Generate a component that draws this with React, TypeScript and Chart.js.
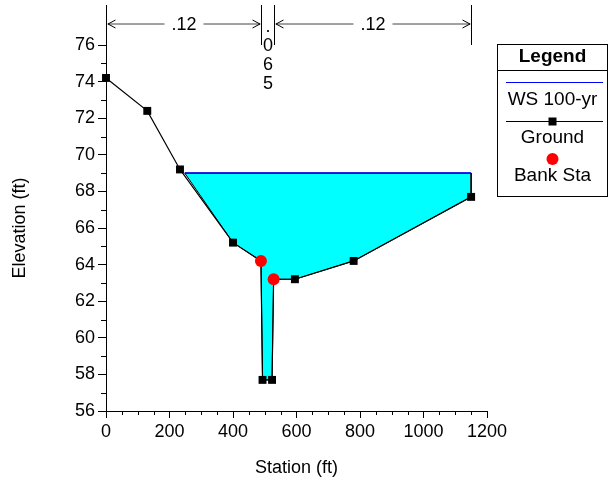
import React, { useEffect, useRef } from 'react';
import { Chart, registerables } from 'chart.js';

Chart.register(...registerables);

// ---- data ----
const groundStations = [0, 130, 233, 400, 488, 493, 523, 528, 595, 780, 1150];
const groundElevations = [74.2, 72.4, 69.2, 65.2, 64.2, 57.7, 57.7, 63.2, 63.2, 64.2, 67.7];
const bankStations = [488, 528];
const bankElevations = [64.2, 63.2];
const wsStations = [248, 1150];
const wsElevation = 69.0;
const nBreakStations = [0, 488, 528, 1150];
const nValues = ['.12', '.065', '.12'];
const xTickValues = [0, 200, 400, 600, 800, 1000, 1200];
const yTickValues = [56, 58, 60, 62, 64, 66, 68, 70, 72, 74, 76];
const xMinorStep = 50;
const yMinorStep = 1;

const FONT = '"Liberation Sans", Arial, sans-serif';
const FS = 18;
const LFS = 19;

// water polygon built from WS and ground below it
const groundPts = groundStations.map((s, i) => ({ x: s, y: groundElevations[i] }));
const wetGround = groundPts.filter((p) => p.y <= wsElevation && p.x >= wsStations[0] && p.x <= wsStations[1]);
const waterPolygon = [
  { x: wsStations[0], y: wsElevation },
  { x: wsStations[1], y: wsElevation },
  ...wetGround.slice().reverse(),
  { x: wsStations[0], y: wsElevation },
];

const overlayPlugin = {
  id: 'overlay',
  afterDraw(chart: any) {
    const { ctx, chartArea } = chart;
    const x = chart.scales.x;
    const y = chart.scales.y;
    ctx.save();
    ctx.strokeStyle = '#000';
    ctx.lineWidth = 1;

    // minor ticks
    ctx.beginPath();
    for (let v = y.min + yMinorStep; v < y.max; v += yMinorStep) {
      if (yTickValues.includes(v)) continue;
      const py = Math.round(y.getPixelForValue(v)) + 0.5;
      ctx.moveTo(chartArea.left - 5, py);
      ctx.lineTo(chartArea.left, py);
    }
    for (let v = x.min + xMinorStep; v < x.max; v += xMinorStep) {
      if (xTickValues.includes(v)) continue;
      const px = Math.round(x.getPixelForValue(v)) + 0.5;
      ctx.moveTo(px, chartArea.bottom);
      ctx.lineTo(px, chartArea.bottom + 4);
    }
    ctx.stroke();

    // Manning's n annotations
    const yTop = 5;
    const yBot = chartArea.top;
    const yArr = 24;
    const pxs = nBreakStations.map((s) => Math.round(x.getPixelForValue(s)) + 0.5);
    ctx.beginPath();
    pxs.forEach((px) => {
      ctx.moveTo(px, yTop);
      ctx.lineTo(px, yBot);
    });
    ctx.stroke();
    ctx.font = `${FS}px ${FONT}`;
    ctx.fillStyle = '#000';
    ctx.textAlign = 'center';
    for (let i = 0; i < nValues.length; i++) {
      const a = pxs[i];
      const b = pxs[i + 1];
      const mid = (a + b) / 2;
      if (b - a > 40) {
        const tw = ctx.measureText(nValues[i]).width;
        const gap = tw / 2 + 7;
        ctx.strokeStyle = '#444';
        ctx.beginPath();
        ctx.moveTo(a + 1, yArr);
        ctx.lineTo(mid - gap, yArr);
        ctx.moveTo(mid + gap, yArr);
        ctx.lineTo(b - 1, yArr);
        ctx.stroke();
        ctx.strokeStyle = '#000';
        ctx.beginPath();
        ctx.moveTo(a + 9, yArr - 4);
        ctx.lineTo(a + 1.5, yArr);
        ctx.lineTo(a + 9, yArr + 4);
        ctx.moveTo(b - 9, yArr - 4);
        ctx.lineTo(b - 1.5, yArr);
        ctx.lineTo(b - 9, yArr + 4);
        ctx.stroke();
        ctx.textBaseline = 'middle';
        ctx.fillText(nValues[i], mid, yArr + 1);
      } else {
        ctx.textBaseline = 'alphabetic';
        const chars = nValues[i].split('');
        chars.forEach((c, k) => {
          ctx.fillText(c, mid, 32 + 19 * k);
        });
      }
    }

    // legend box
    const ds = chart.data.datasets;
    const L = 497.5, T = 44.5, W = 110, H = 152;
    const cx = L + W / 2;
    ctx.fillStyle = '#fff';
    ctx.fillRect(L, T, W, H);
    ctx.strokeStyle = '#000';
    ctx.lineWidth = 1;
    ctx.strokeRect(L, T, W, H);
    ctx.beginPath();
    ctx.moveTo(L, 70.5);
    ctx.lineTo(L + W, 70.5);
    ctx.stroke();
    ctx.fillStyle = '#000';
    ctx.textAlign = 'center';
    ctx.textBaseline = 'middle';
    ctx.font = `bold ${LFS}px ${FONT}`;
    ctx.fillText('Legend', cx, 57);
    ctx.font = `${LFS}px ${FONT}`;
    // WS
    ctx.strokeStyle = '#0000ff';
    ctx.beginPath();
    ctx.moveTo(506, 82.5);
    ctx.lineTo(603, 82.5);
    ctx.stroke();
    ctx.fillText(ds[1].label, cx, 100);
    // Ground
    ctx.strokeStyle = '#000';
    ctx.beginPath();
    ctx.moveTo(506, 121.5);
    ctx.lineTo(603, 121.5);
    ctx.stroke();
    ctx.fillRect(cx - 4, 117.5, 8, 8);
    ctx.fillText(ds[2].label, cx, 138);
    // Bank
    ctx.fillStyle = '#ff0000';
    ctx.beginPath();
    ctx.arc(cx, 159, 6, 0, Math.PI * 2);
    ctx.fill();
    ctx.fillStyle = '#000';
    ctx.fillText(ds[3].label, cx, 176);

    ctx.restore();
  },
};

export default function App() {
  const ref = useRef<HTMLCanvasElement>(null);
  useEffect(() => {
    Chart.defaults.font.family = FONT;
    const chart = new Chart(ref.current as HTMLCanvasElement, {
      type: 'scatter',
      data: {
        datasets: [
          {
            label: 'water',
            data: waterPolygon,
            showLine: true,
            fill: 'shape',
            backgroundColor: '#00ffff',
            borderColor: '#000',
            borderWidth: 1,
            pointRadius: 0,
            order: 4,
          },
          {
            label: 'WS 100-yr',
            data: wsStations.map((s) => ({ x: s, y: wsElevation })),
            showLine: true,
            borderColor: '#0000ff',
            borderWidth: 1.5,
            pointRadius: 0,
            order: 3,
          },
          {
            label: 'Ground',
            data: groundPts,
            showLine: true,
            borderColor: '#000',
            borderWidth: 1.2,
            pointStyle: 'rect',
            pointRadius: groundStations.map((s) => (bankStations.includes(s) ? 0 : 5.6)),
            pointBackgroundColor: '#000',
            pointBorderColor: '#000',
            pointBorderWidth: 0,
            clip: false,
            order: 2,
          },
          {
            label: 'Bank Sta',
            data: bankStations.map((s, i) => ({ x: s, y: bankElevations[i] })),
            showLine: false,
            pointStyle: 'circle',
            pointRadius: 6,
            pointBackgroundColor: '#ff0000',
            pointBorderColor: '#ff0000',
            pointBorderWidth: 0,
            clip: false,
            order: 1,
          },
        ],
      },
      options: {
        animation: false,
        responsive: false,
        devicePixelRatio: 1,
        layout: { padding: { left: 0, top: 45, right: 123, bottom: 0 } },
        plugins: { legend: { display: false }, tooltip: { enabled: false } },
        scales: {
          x: {
            type: 'linear',
            min: 0,
            max: 1200,
            afterBuildTicks: (s: any) => {
              s.ticks = xTickValues.map((v) => ({ value: v }));
            },
            afterFit: (s: any) => {
              s.height = 74;
            },
            ticks: {
              color: '#000',
              font: { size: FS, family: FONT },
              padding: 3,
              maxRotation: 0,
              autoSkip: false,
              callback: (v: any) => String(v),
            },
            grid: { drawOnChartArea: false, color: '#000', tickLength: 7 },
            border: { color: '#000', width: 1 },
            title: { display: true, text: 'Station (ft)', color: '#000', font: { size: FS, family: FONT }, padding: { top: 0, bottom: 6 } },
          },
          y: {
            type: 'linear',
            min: 56,
            max: 76,
            afterBuildTicks: (s: any) => {
              s.ticks = yTickValues.map((v) => ({ value: v }));
            },
            afterFit: (s: any) => {
              s.width = 106;
            },
            ticks: { color: '#000', font: { size: FS, family: FONT }, padding: 3, autoSkip: false, callback: (v: any) => String(v) },
            grid: { drawOnChartArea: false, color: '#000', tickLength: 8 },
            border: { color: '#000', width: 1 },
            title: { display: true, text: 'Elevation (ft)', color: '#000', font: { size: FS, family: FONT }, padding: { top: 9, bottom: 0 } },
          },
        },
      },
      plugins: [overlayPlugin],
    } as any);
    return () => chart.destroy();
  }, []);
  return (
    <div style={{ position: 'absolute', left: 0, top: 0, width: 610, height: 485, background: '#fff' }}>
      <canvas ref={ref} width={610} height={485} style={{ display: 'block', width: 610, height: 485 }} />
    </div>
  );
}
